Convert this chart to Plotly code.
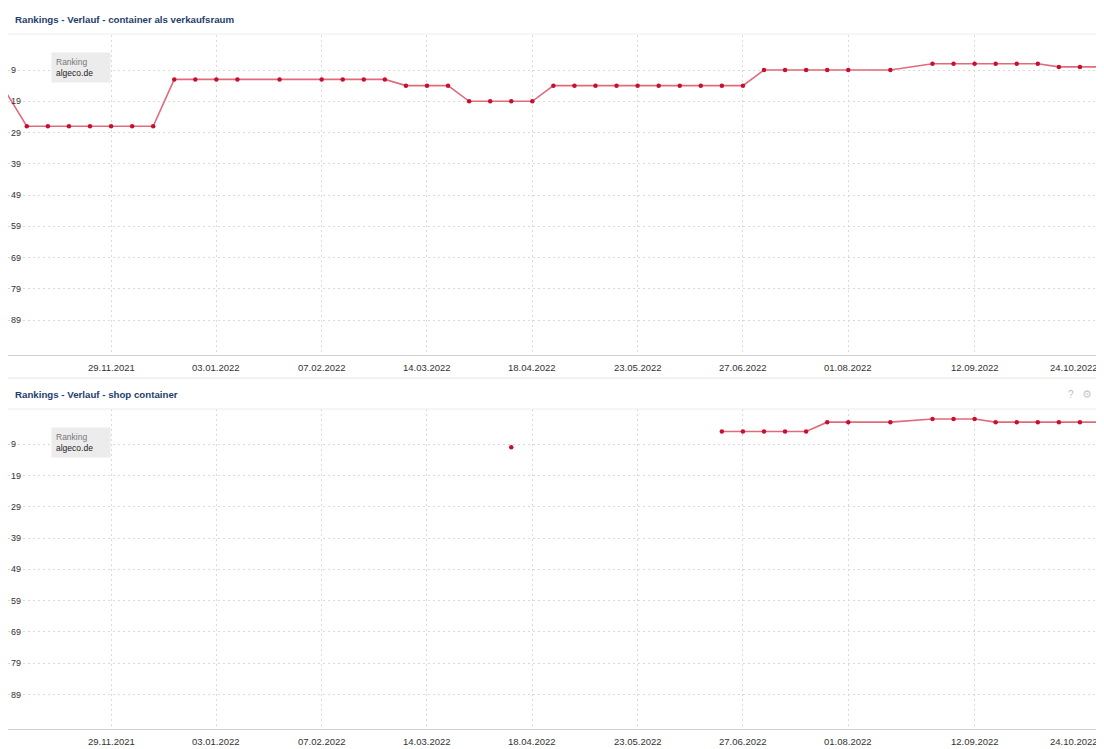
import plotly.graph_objects as go

# page body has an 8px margin: figure occupies window minus that offset
OFF = 8
W, H = 1104 - OFF, 749 - OFF

# ---------------- data ----------------
top_dates = [
    "2021-10-25", "2021-11-01", "2021-11-08", "2021-11-15", "2021-11-22", "2021-11-29",
    "2021-12-06", "2021-12-13", "2021-12-20", "2021-12-27", "2022-01-03", "2022-01-10",
    "2022-01-24", "2022-02-07", "2022-02-14", "2022-02-21", "2022-02-28", "2022-03-07",
    "2022-03-14", "2022-03-21", "2022-03-28", "2022-04-04", "2022-04-11", "2022-04-18",
    "2022-04-25", "2022-05-02", "2022-05-09", "2022-05-16", "2022-05-23", "2022-05-30",
    "2022-06-06", "2022-06-13", "2022-06-20", "2022-06-27", "2022-07-04", "2022-07-11",
    "2022-07-18", "2022-07-25", "2022-08-01", "2022-08-15", "2022-08-29", "2022-09-05",
    "2022-09-12", "2022-09-19", "2022-09-26", "2022-10-03", "2022-10-10", "2022-10-17",
    "2022-10-24",
]
top_ranks = [
    16, 27, 27, 27, 27, 27,
    27, 27, 12, 12, 12, 12,
    12, 12, 12, 12, 12, 14,
    14, 14, 19, 19, 19, 19,
    14, 14, 14, 14, 14, 14,
    14, 14, 14, 14, 9, 9,
    9, 9, 9, 9, 7, 7,
    7, 7, 7, 7, 8, 8,
    8,
]

bottom_dates = [
    "2022-04-04", "2022-04-11", "2022-04-18",
    "2022-06-13", "2022-06-20", "2022-06-27", "2022-07-04", "2022-07-11", "2022-07-18",
    "2022-07-25", "2022-08-01", "2022-08-15", "2022-08-29", "2022-09-05", "2022-09-12",
    "2022-09-19", "2022-09-26", "2022-10-03", "2022-10-10", "2022-10-17", "2022-10-24",
]
bottom_ranks = [
    None, 10, None,
    None, 5, 5, 5, 5, 5,
    2, 2, 2, 1, 1, 1,
    2, 2, 2, 2, 2, 2,
]

x_tick_vals = ["2021-11-29", "2022-01-03", "2022-02-07", "2022-03-14", "2022-04-18",
               "2022-05-23", "2022-06-27", "2022-08-01", "2022-09-12", "2022-10-24"]
x_tick_text = ["29.11.2021", "03.01.2022", "07.02.2022", "14.03.2022", "18.04.2022",
               "23.05.2022", "27.06.2022", "01.08.2022", "12.09.2022", "24.10.2022"]
y_tick_vals = [9, 19, 29, 39, 49, 59, 69, 79, 89]

titles = ["Rankings - Verlauf - container als verkaufsraum", "Rankings - Verlauf - shop container"]
legend_label = "Ranking"
legend_domain = "algeco.de"

# ---------------- styling ----------------
LINE = "#e06a7e"
MARK = "#c8102e"
GRID = "#dadada"
TXT = "#333333"
FONT = "Liberation Sans, Arial, sans-serif"
X_RANGE = ["2021-10-25 18:00", "2022-10-25 00:00"]
Y_RANGE = [100, -2.2]


def px_x(p):
    return min(1.0, max(0.0, (p - OFF) / W))


def px_y(p):
    return min(1.0, max(0.0, 1 - (p - OFF) / H))


fig = go.Figure()
fig.add_trace(go.Scatter(x=top_dates, y=top_ranks, mode="lines+markers",
                         line=dict(color=LINE, width=1.6),
                         marker=dict(color=MARK, size=4.5),
                         connectgaps=False, xaxis="x", yaxis="y", showlegend=False,
                         hoverinfo="skip"))
fig.add_trace(go.Scatter(x=bottom_dates, y=bottom_ranks, mode="lines+markers",
                         line=dict(color=LINE, width=1.6),
                         marker=dict(color=MARK, size=4.5),
                         connectgaps=False, xaxis="x2", yaxis="y2", showlegend=False,
                         hoverinfo="skip"))

xdom = [px_x(8), 1]
top_dom = [px_y(354.5), px_y(35)]
bot_dom = [px_y(729), px_y(409)]

common_x = dict(type="date", range=X_RANGE, tickvals=x_tick_vals, showticklabels=False,
                showgrid=True, gridcolor=GRID, griddash="2px,3px", gridwidth=1,
                showline=True, linecolor="#d0d0d0", linewidth=1, zeroline=False,
                ticks="", fixedrange=True, domain=xdom)
common_y = dict(range=Y_RANGE, tickvals=y_tick_vals, ticklabelposition="inside",
                showgrid=True, gridcolor=GRID, griddash="2px,3px", gridwidth=1,
                zeroline=False, showline=False, ticks="",
                tickfont=dict(family=FONT, size=9, color=TXT), fixedrange=True)

fig.update_layout(
    width=W, height=H,
    margin=dict(l=0, r=0, t=0, b=0, autoexpand=False),
    paper_bgcolor="white", plot_bgcolor="white",
    xaxis=dict(**common_x, anchor="y"),
    yaxis=dict(**common_y, domain=top_dom, anchor="x"),
    xaxis2=dict(**common_x, anchor="y2"),
    yaxis2=dict(**common_y, domain=bot_dom, anchor="x2"),
    font=dict(family=FONT, color=TXT),
)

annotations = []
# x tick labels
for ylab, xref in ((367, "x"), (741, "x2")):
    for i, (v, t) in enumerate(zip(x_tick_vals, x_tick_text)):
        last = i == len(x_tick_vals) - 1
        annotations.append(dict(x=v, y=px_y(ylab), xref=xref, yref="paper", text=t,
                                showarrow=False, xanchor="right" if last else "center",
                                yanchor="middle", xshift=-1 if last else 0,
                                font=dict(family=FONT, size=9.5, color=TXT)))
# titles
for ty, t in ((19, titles[0]), (394, titles[1])):
    annotations.append(dict(x=px_x(13), y=px_y(ty), xref="paper", yref="paper", text="<b>" + t + "</b>",
                            showarrow=False, xanchor="left", yanchor="middle",
                            font=dict(family=FONT, size=9.7, color="#1f3d6d")))
# legend-like boxes
for by in (52, 427):
    annotations.append(dict(x=px_x(51), y=px_y(by), xref="paper", yref="paper",
                            text=legend_label + "<br><span style='color:#222'>" + legend_domain + "</span>",
                            showarrow=False, xanchor="left", yanchor="top", align="left",
                            bgcolor="#ececec", borderpad=4, width=50,
                            font=dict(family=FONT, size=8.5, color="#777777")))
# icons
annotations.append(dict(x=px_x(1076), y=px_y(394), xref="paper", yref="paper", text="?",
                        showarrow=False, font=dict(family=FONT, size=10, color="#c0c0c0")))
annotations.append(dict(x=px_x(1094), y=px_y(394), xref="paper", yref="paper", text="\u2699",
                        showarrow=False, font=dict(family="DejaVu Sans", size=11, color="#c8c8c8")))
fig.update_layout(annotations=annotations)

shapes = [
    # header separators
    dict(type="line", xref="paper", yref="paper", x0=0, x1=1, y0=px_y(34), y1=px_y(34),
         line=dict(color="#ececec", width=1)),
    dict(type="line", xref="paper", yref="paper", x0=0, x1=1, y0=px_y(378), y1=px_y(378),
         line=dict(color="#ececec", width=1.5)),
    dict(type="line", xref="paper", yref="paper", x0=0, x1=1, y0=px_y(409), y1=px_y(409),
         line=dict(color="#ececec", width=1)),
]
fig.update_layout(shapes=shapes)

fig.write_html("out.html")
